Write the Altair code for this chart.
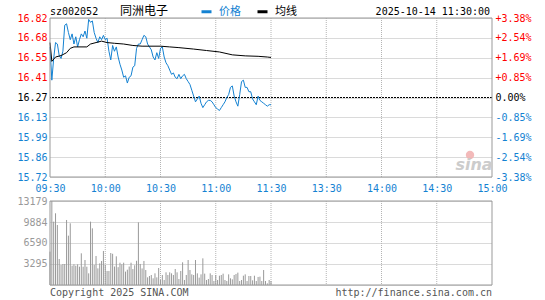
import json
import altair as alt
import pandas as pd

# ---------------- data ----------------
stock_code = "sz002052"
stock_name = "同洲电子"
timestamp = "2025-10-14 11:30:00"
copyright_text = "Copyright 2025 SINA.COM"
url_text = "http://finance.sina.com.cn"
watermark_text = "sina"
prev_close = 16.27

series_names = ["价格", "均线"]

time_tick_minutes = [0, 30, 60, 90, 120, 150, 180, 210, 240]
time_tick_labels = ["09:30", "10:00", "10:30", "11:00", "11:30", "13:30", "14:00", "14:30", "15:00"]

price_tick_values = [16.82, 16.6825, 16.545, 16.4075, 16.27, 16.1325, 15.995, 15.8575, 15.72]
price_tick_labels = ["16.82", "16.68", "16.55", "16.41", "16.27", "16.13", "15.99", "15.86", "15.72"]
pct_tick_labels = ["+3.38%", "+2.54%", "+1.69%", "+0.85%", "0.00%", "-0.85%", "-1.69%", "-2.54%", "-3.38%"]

vol_tick_values = [0, 3295, 6590, 9884, 13179]
vol_tick_labels = ["", "3295", "6590", "9884", "13179"]

# one value per minute from 09:30
price_values = [
    16.62, 16.39, 16.54, 16.65, 16.64, 16.56, 16.54, 16.59, 16.77, 16.78,
    16.72, 16.67, 16.71, 16.64, 16.69, 16.62, 16.67, 16.71, 16.69, 16.73,
    16.68, 16.81, 16.79, 16.80, 16.72, 16.68, 16.65, 16.69, 16.67, 16.70,
    16.67, 16.68, 16.59, 16.53, 16.63, 16.59, 16.62, 16.55, 16.50, 16.46,
    16.41, 16.42, 16.37, 16.41, 16.42, 16.48, 16.49, 16.61, 16.64, 16.64,
    16.67, 16.70, 16.69, 16.64, 16.62, 16.60, 16.55, 16.53, 16.58, 16.54,
    16.61, 16.62, 16.55, 16.51, 16.49, 16.46, 16.43, 16.44, 16.41, 16.40,
    16.43, 16.40, 16.42, 16.43, 16.40, 16.38, 16.36, 16.32, 16.28, 16.24,
    16.26, 16.28, 16.23, 16.20, 16.22, 16.24, 16.25, 16.25, 16.24, 16.22,
    16.20, 16.19, 16.18, 16.20, 16.22, 16.24, 16.27, 16.29, 16.34, 16.35,
    16.28, 16.24, 16.21, 16.29, 16.38, 16.39, 16.34, 16.34, 16.31, 16.31,
    16.26, 16.24, 16.22, 16.28, 16.25, 16.24, 16.23, 16.22, 16.21, 16.22,
    16.22,
]

avg_minutes = [0, 1, 3, 6, 9, 11, 13, 20, 22, 25, 28, 31, 35, 40, 45, 50,
               60, 65, 70, 78, 85, 92, 99, 106, 113, 118, 120]
avg_values = [16.65, 16.52, 16.55, 16.56, 16.58, 16.61, 16.62, 16.62, 16.64, 16.65,
              16.66, 16.65, 16.645, 16.64, 16.63, 16.625, 16.625, 16.62, 16.615,
              16.605, 16.595, 16.585, 16.565, 16.558, 16.555, 16.55, 16.547]

vol_values = [
    5230, 13179, 9940, 11250, 9410, 4080, 3140, 3290, 3290, 10200,
    7740, 9680, 3030, 3240, 3030, 3240, 2870, 4970, 2870, 3920,
    2870, 1830, 9940, 8890, 3140, 4550, 2610, 3400, 3770, 5340,
    3140, 2200, 2200, 5020, 4900, 2900, 4500, 2800, 3500, 3250,
    3500, 2100, 2400, 2900, 3500, 2500, 3100, 3800, 9830, 3300,
    2600, 3770, 2350, 1200, 1410, 1570, 1050, 1830, 1200, 2670,
    785, 1570, 785, 1990, 1570, 1990, 1830, 1570, 2510, 1990,
    940, 2200, 3560, 785, 1570, 3920, 2350, 1670, 1570, 3920,
    1830, 1150, 1670, 4180, 1780, 785, 940, 1830, 1570, 630,
    1570, 785, 1460, 1570, 1780, 785, 630, 1670, 1050, 890,
    1570, 1730, 1940, 630, 785, 1460, 1670, 630, 1410, 1410,
    730, 1460, 630, 1260, 1310, 630, 2350, 630, 260, 785,
    630,
]

# ---------------- style ----------------
RED = "#ff0000"
BLUE = "#1482d2"
GRAY = "#999999"
GRID = "#b4b4b4"
FRAME = "#999999"
MONO = "DejaVu Sans Mono"
CJK = "Noto Sans CJK SC"

W, H = 442, 267
PRICE_H = 159
VOL_TOP, VOL_BOTTOM = 183, 267

price_hi, price_lo = price_tick_values[0], price_tick_values[-1]
vol_lo, vol_hi = vol_tick_values[0], vol_tick_values[-1]
t_lo, t_hi = time_tick_minutes[0], time_tick_minutes[-1]

x_scale = alt.Scale(domain=[t_lo, t_hi], nice=False, zero=False)
price_scale = alt.Scale(domain=[price_lo, price_hi], range=[PRICE_H, 0], nice=False, zero=False)
vol_scale = alt.Scale(domain=[vol_lo, vol_hi], range=[VOL_BOTTOM, VOL_TOP], nice=False, zero=False)
color_scale = alt.Scale(domain=series_names, range=[BLUE, "#000000"])


def label_expr(values, labels):
    return f"{json.dumps(labels, ensure_ascii=False)}[indexof({json.dumps(values)}, datum.value)]"


updown = {
    "condition": [
        {"test": f"datum.value > {prev_close + 0.001}", "value": RED},
        {"test": f"datum.value < {prev_close - 0.001}", "value": BLUE},
    ],
    "value": "#000000",
}

time_axis = alt.Axis(
    orient="bottom", offset=-(H - PRICE_H), values=time_tick_minutes,
    labelExpr=label_expr(time_tick_minutes, time_tick_labels),
    domain=False, ticks=False, grid=False, labelPadding=6, labelColor=BLUE,
    labelFont=MONO, labelFontSize=10, title=None, labelFlush=False, labelOverlap=False,
)
price_axis = alt.Axis(
    orient="left", values=price_tick_values,
    labelExpr=label_expr(price_tick_values, price_tick_labels),
    labelColor=updown, labelFont=MONO, labelFontSize=10, ticks=False, domain=False,
    labelPadding=3, grid=True, gridColor=GRID, gridDash=[1, 1], title=None,
    labelOverlap=False, labelFlush=False,
)
pct_axis = alt.Axis(
    orient="right", values=price_tick_values,
    labelExpr=label_expr(price_tick_values, pct_tick_labels),
    labelColor=updown, labelFont=MONO, labelFontSize=10, ticks=False, domain=False,
    labelPadding=3, grid=False, title=None, labelOverlap=False, labelFlush=False,
)
vol_axis = alt.Axis(
    orient="left", values=vol_tick_values,
    labelExpr=label_expr(vol_tick_values, vol_tick_labels),
    labelColor=GRAY, labelFont=MONO, labelFontSize=10, ticks=False, domain=False,
    labelPadding=3, grid=True, gridColor=GRID, gridDash=[1, 1], title=None,
    labelOverlap=False, labelFlush=False,
)
legend = alt.Legend(
    orient="none", legendX=150, legendY=-13, direction="horizontal", title=None,
    symbolType="stroke", symbolSize=100, symbolStrokeWidth=3, labelFont=CJK,
    labelFontSize=11, labelOffset=6, columnPadding=10, padding=0,
    labelColor={"expr": f"datum.label == '{series_names[0]}' ? '{BLUE}' : '#000000'"},
)

# ---------------- frames ----------------
price_df = pd.DataFrame({"m": list(range(len(price_values))), "value": price_values,
                         "series": series_names[0]})
avg_df = pd.DataFrame({"m": avg_minutes, "value": avg_values, "series": series_names[1]})
vol_df = pd.DataFrame({"m": list(range(len(vol_values))), "vol": vol_values})
prev_df = pd.DataFrame({"prev": [prev_close]})
vgrid_df = pd.DataFrame({"m": time_tick_minutes[1:-1]})
vgrid_df["ptop"], vgrid_df["pbot"] = price_hi, price_lo
vgrid_df["vtop"], vgrid_df["vbot"] = vol_hi, vol_lo
frame_df = pd.DataFrame({"x0": [t_lo], "x1": [t_hi], "ptop": [price_hi], "pbot": [price_lo],
                         "vtop": [vol_hi], "vbot": [vol_lo]})

# ---------------- price panel ----------------
price_vgrid = alt.Chart(vgrid_df).mark_rule(color=GRID, strokeDash=[1, 1], strokeWidth=1).encode(
    x=alt.X("m:Q", scale=x_scale, axis=None),
    y=alt.Y("ptop:Q", scale=price_scale, axis=None), y2="pbot:Q")
time_layer = alt.Chart(vgrid_df).mark_rule(opacity=0).encode(
    x=alt.X("m:Q", scale=x_scale, axis=time_axis))
price_line = alt.Chart(price_df).mark_line(strokeWidth=1).encode(
    x=alt.X("m:Q", scale=x_scale, axis=None),
    y=alt.Y("value:Q", scale=price_scale, axis=price_axis),
    color=alt.Color("series:N", scale=color_scale, legend=legend))
avg_line = alt.Chart(avg_df).mark_line(strokeWidth=1).encode(
    x=alt.X("m:Q", scale=x_scale, axis=None),
    y=alt.Y("value:Q", scale=price_scale, axis=None),
    color=alt.Color("series:N", scale=color_scale, legend=None))
prev_rule = alt.Chart(prev_df).mark_rule(color="#000000", strokeDash=[2, 1], strokeWidth=1).encode(
    y=alt.Y("prev:Q", scale=price_scale, axis=None))
pct_layer = alt.Chart(prev_df).mark_rule(opacity=0).encode(
    y=alt.Y("prev:Q", scale=price_scale, axis=pct_axis))
price_frame = alt.Chart(frame_df).mark_rect(fillOpacity=0, stroke=FRAME, strokeWidth=1).encode(
    x=alt.X("x0:Q", scale=x_scale, axis=None), x2="x1:Q",
    y=alt.Y("ptop:Q", scale=price_scale, axis=None), y2="pbot:Q")

# ---------------- volume panel ----------------
vol_vgrid = alt.Chart(vgrid_df).mark_rule(color=GRID, strokeDash=[1, 1], strokeWidth=1).encode(
    x=alt.X("m:Q", scale=x_scale, axis=None),
    y=alt.Y("vtop:Q", scale=vol_scale, axis=None), y2="vbot:Q")
vol_axis_layer = alt.Chart(prev_df).mark_rule(opacity=0).encode(
    y=alt.datum(vol_lo, scale=vol_scale, axis=vol_axis))
vol_bars = alt.Chart(vol_df).mark_rule(color=GRAY, strokeWidth=1).encode(
    x=alt.X("m:Q", scale=x_scale, axis=None),
    y=alt.Y("vol:Q", scale=vol_scale, axis=None), y2=alt.datum(0))
vol_frame = alt.Chart(frame_df).mark_rect(fillOpacity=0, stroke=FRAME, strokeWidth=1).encode(
    x=alt.X("x0:Q", scale=x_scale, axis=None), x2="x1:Q",
    y=alt.Y("vtop:Q", scale=vol_scale, axis=None), y2="vbot:Q")


# ---------------- texts ----------------
def label(text, x, y, align="left", font=MONO, size=10, color="#000000", **kw):
    return alt.Chart(pd.DataFrame({"t": [text]})).mark_text(
        align=align, baseline="alphabetic", font=font, fontSize=size, color=color, **kw
    ).encode(text="t:N", x=alt.value(x), y=alt.value(y))


texts = [
    label(stock_code, 0, -3),
    label(stock_name, 70, -3, font=CJK, size=12),
    label(timestamp, 440, -3, align="right"),
    label(copyright_text, 0, 278, color="#555555"),
    label(url_text, 442, 278, align="right", color="#555555"),
    label(watermark_text, 424, 152, align="center", font="DejaVu Sans", size=16,
          color="#cccccc", fontStyle="italic", fontWeight="bold"),
]

logo = alt.Chart(pd.DataFrame({"t": [watermark_text]})).mark_point(
    filled=True, shape="circle", size=70, color="#f2b3b3", opacity=0.9
).encode(x=alt.value(420), y=alt.value(137))

chart = alt.layer(
    price_vgrid, vol_vgrid, time_layer, prev_rule, price_line, avg_line, pct_layer,
    vol_axis_layer, vol_bars, price_frame, vol_frame, logo, *texts
).resolve_scale(y="independent").resolve_axis(y="independent", x="independent").properties(
    width=W, height=H,
    autosize=alt.AutoSizeParams(type="none"),
    padding={"left": 50, "top": 18, "right": 53, "bottom": 15},
    background="#ffffff",
).configure_view(stroke=None)

chart.save("out.html", embed_options={"renderer": "svg", "actions": False})
